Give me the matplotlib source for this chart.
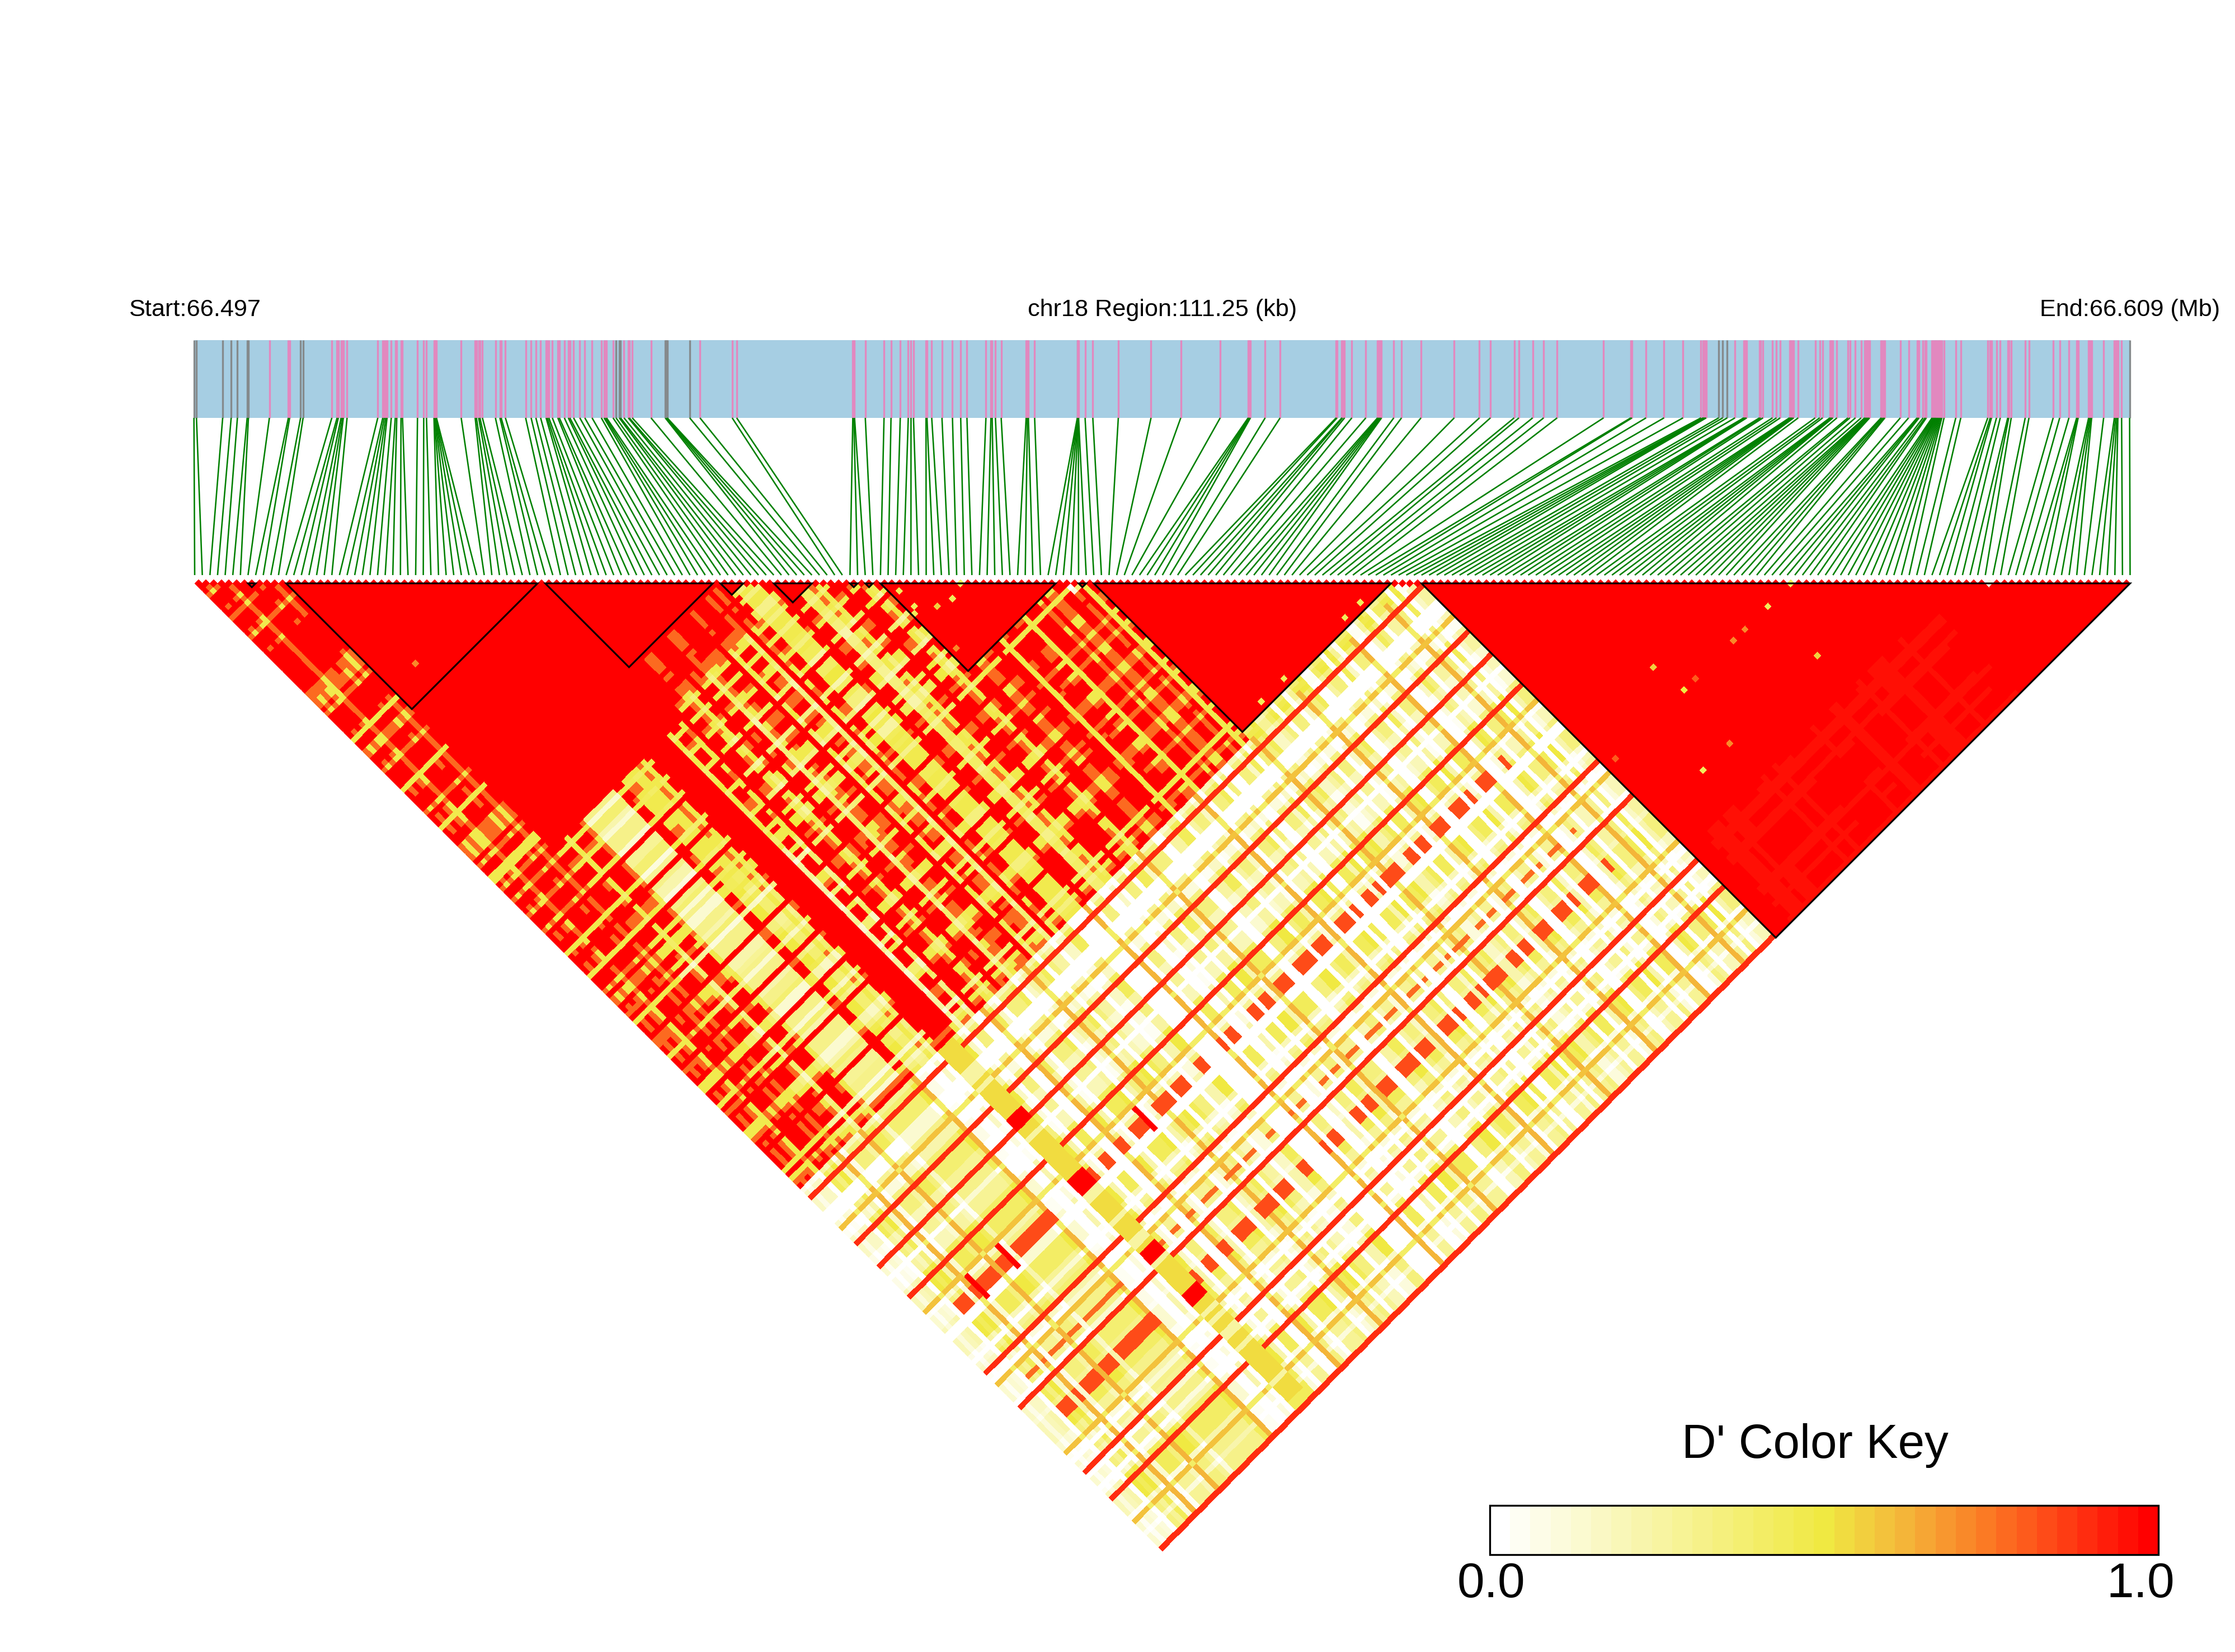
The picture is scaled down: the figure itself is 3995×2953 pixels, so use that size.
"""
LD heatmap of chr18 region, D' colour key
Values read off the picture by eye (regions, stripes, single cells)
"""
import numpy as np
import matplotlib
matplotlib.use('Agg')
import matplotlib.pyplot as plt
from matplotlib.colors import LinearSegmentedColormap
from matplotlib.patches import Polygon, Rectangle

plt.rcParams['font.family'] = ['Liberation Sans', 'DejaVu Sans']

# SNP positions in five crops (crop px, 2.24x)
strip_origin = [340, 1040, 1740, 2440, 3120]
strip_1 = [15, 25, 130, 164, 189, 228, 233, 317, 393, 398, 442, 452, 567, 588, 593, 604, 609, 613, 628, 751,
           771, 777, 783, 788, 805, 821, 827, 844, 850, 910, 935, 946, 976, 978, 980, 982, 984, 986, 1085, 1141,
           1146, 1155, 1160, 1170, 1222, 1240, 1245, 1262, 1343, 1365, 1384, 1403, 1425, 1430, 1436, 1450, 1472,
           1478, 1498, 1514, 1520, 1535, 1560]
strip_2 = [12, 41, 78, 89, 94, 99, 125, 137, 150, 155, 169, 186, 190, 202, 277, 334, 337, 340, 342, 432, 473,
           602, 620, 1085, 1089, 1092, 1135, 1210, 1238, 1275, 1307, 1318, 1328, 1378, 1382, 1401, 1442, 1484,
           1517, 1542]
strip_3 = [50, 70, 75, 88, 111, 211, 216, 220, 245, 416, 417, 418, 419, 420, 421, 447, 478, 580, 711, 830, 988,
           1100, 1103, 1106, 1109, 1168, 1228, 1452, 1456, 1475, 1478, 1486, 1515]
strip_4 = [3, 50, 54, 58, 62, 66, 115, 146, 224, 357, 458, 502, 597, 616, 671, 715, 769, 955, 1064, 1069, 1125,
           1197, 1273, 1345, 1354, 1358, 1362, 1366, 1416, 1432, 1450, 1481, 1516, 1520, 1524, 1528]
strip_5 = [56, 61, 70, 108, 124, 139, 176, 180, 184, 188, 193, 211, 279, 297, 309, 338, 342, 346, 350, 366, 410,
           418, 440, 463, 477, 481, 485, 489, 493, 497, 543, 547, 553, 558, 620, 653, 687, 691, 695, 711, 719,
           724, 747, 751, 755, 759, 762, 766, 770, 774, 778, 782, 786, 795, 842, 862, 970, 980, 985, 1005, 1020,
           1050, 1054, 1064, 1120, 1135, 1232, 1258, 1295, 1326, 1329, 1332, 1374, 1378, 1382, 1386, 1434, 1477,
           1482, 1487, 1491, 1506, 1538]
gray_snps = [0, 1, 2, 3, 4, 5, 6, 10, 11, 70, 71, 72, 78, 79, 80, 81, 82, 112, 164, 165, 166, 254]

# haplotype blocks (first SNP, last SNP)
blocks = [(7, 8), (12, 45), (46, 68), (69, 72), (76, 81), (86, 87), (88, 89), (90, 113), (116, 117),
          (118, 157), (161, 254)]

snp_weight = ("7575387957" "4777638875" "9999999998" "4433539999" "9527733885"
              "3777825677" "8376625588" "3333837722" "5377388537" "7733668826"
              "7755277837" "3377582777" "8556737735" "7783367738" "5377733587"
              "3667728356" "6888883337" "3558888866" "3773666999" "9995777933"
              "9999637855" "3377773888" "8799999773" "5376337725" "9999995377" "57773")

# regions of the triangle: i from, i to, j from, j to, level
regions = [(0, 255, 0, 255, .18),
           (0, 3, 160, 255, .08),
           (0, 12, 0, 90, .86), (0, 12, 90, 113, .86), (0, 12, 113, 160, .84),
           (12, 46, 46, 68, 1.), (12, 46, 68, 83, .97), (12, 44, 83, 113, .8), (12, 46, 113, 160, .7),
           (44, 46, 83, 113, .85),
           (46, 69, 69, 80, .93), (46, 69, 80, 90, .78), (46, 69, 90, 113, .74), (46, 69, 113, 160, .76),
           (69, 90, 69, 90, .78), (69, 90, 90, 113, .74), (69, 90, 113, 160, .78),
           (90, 114, 114, 160, .87), (114, 118, 118, 160, .85),
           (118, 158, 158, 161, .5)]

# pale yellow squares of SNP 20-27, i from, i to, j from, j to
pale_runs = [(20, 28, 83, 158), (20, 28, 160, 255)]

# faded part of the last block
fade_block = (165, 225, 232, 255)

# thick red / gold bands (i from, i to, j from, j to, D')
bands = [(37, 42, 83, 158, 1.),
         (36, 40, 160, 252, .54), (36, 40, 178, 181, 1.), (36, 40, 194, 198, 1.),
         (36, 40, 213, 216, 1.), (36, 40, 224, 227, 1.)]

# long lines
red_lines_j = [162, 174, 180, 188, 208, 217, 234, 241, 254]
orange_lines_i = [9, 15, 29, 47, 58, 74, 88, 103, 118, 130, 144, 153]
orange_lines_j = [170, 192, 211, 229, 247]
mix_red_i = [46, 52, 60, 66, 75, 84, 96]
mix_red_j = [93, 100, 105, 120, 128, 135, 141, 150]
ridges_j = [(195, 198, .84), (214, 215, .78), (222, 225, .82)]
short_red = [(10, 193, 199), (18, 193, 199), (54, 193, 199)]

# single cells that stand out inside the blocks (i, j, D')
single_cells = [(203, 210, .45), (203, 223, .55), (181, 210, .5), (180, 203, .55), (173, 223, .45),
                (194, 210, .7), (197, 210, .7), (184, 210, .8), (163, 210, .8), (180, 223, .7),
                (124, 156, .45), (150, 156, .45), (146, 156, .45), (130, 156, .45), (18, 40, .7),
                (91, 94, .45), (91, 98, .45), (90, 99, .45), (94, 101, .55), (97, 102, .45), (100, 101, .45),
                (91, 109, .7), (209, 210, .45), (235, 236, .1)]

key_values = np.linspace(0, 1, 33)
key_colors = [(0, '#ffffff'), (.5, '#f0e942'), (.62, '#f4b73a'), (.75, '#fb7a24'), (.9, '#ff2f10'), (1, '#ff0000')]

assert len(snp_weight) == 255

# picture layout, px
X0, X1, STEP = 348., 3807., 13.62
Y_TOP, BAR_TOP, BAR_BOT, LINE_BOT = 1036., 608., 747., 1028.
REGION_KB = 111.25

cmap = LinearSegmentedColormap.from_list('dprime', key_colors, N=33)

# bar positions in kb from the region start
bar_px = np.concatenate([o + np.array(s) / 2.24 for o, s in
                         zip(strip_origin, [strip_1, strip_2, strip_3, strip_4, strip_5])])
pos_kb = (bar_px - X0) / (X1 - X0) * REGION_KB
n = len(pos_kb)
assert n == 255

# build D'
T = np.zeros((n, n))
for i0, i1, j0, j1, lev in regions:
    T[i0:i1, j0:j1] = lev
w = np.array([int(c) for c in snp_weight]) / 9
D = np.clip(T + (np.outer(w, w) - .5) * 4 * T * (1 - T) * 1.6, 0, 1)

# left part is red or yellow with little orange in between, right part never gets past yellow
left = D[:, :160]
left[(left >= .5) & (left < .66)] = .46
left[(left >= .66) & (left < .8)] = .78
left[left >= .8] = 1
D[:161, 160:] = np.minimum(D[:161, 160:], .5)

for i0, i1, j0, j1 in pale_runs:
    D[i0:i1, j0:j1] = .42 * w[j0:j1]
for i in mix_red_i:
    D[i, i + 1:160] = 1
for j in mix_red_j:
    D[:100, j] = np.where(w[:100] >= .3, 1, D[:100, j])
for i in orange_lines_i:
    D[i, 160:] = np.where(w[160:] >= .5, .62, .42)
for j in orange_lines_j:
    D[:161, j] = np.where(w[:161] >= .5, .6, .4)
for j in red_lines_j:
    D[:161, j] = .88
for j0, j1, v in ridges_j:
    for i in range(4, 149):
        if w[i] >= .6:
            D[i, j0:j1] = v
for i0, i1, j0, j1, v in bands:
    D[i0:i1, j0:j1] = np.where(w[j0:j1] >= .5, v, v * .45) if v < 1 else v
for i, j0, j1 in short_red:
    D[i, j0:j1] = 1

# everything inside a block is red, apart from the odd cells below
for a, b in blocks:
    D[a:b + 1, a:b + 1] = 1
fi0, fi1, fj0, fj1 = fade_block
D[fi0:fi1, fj0:fj1] = .94 + .06 * np.outer(w[fi0:fi1], w[fj0:fj1])
for k in range(n - 1):
    D[k, k + 1] = 1
for i, j, v in single_cells:
    D[i, j] = v

mask = np.ones((n, n), dtype=bool)
mask[np.triu_indices(n, 1)] = False
D = np.ma.array(D, mask=mask)

fig = plt.figure(figsize=(3995 / 300, 2953 / 300), dpi=300)
ax = fig.add_axes([0, 0, 1, 1])
ax.set_xlim(0, 3995)
ax.set_ylim(2953, 0)
ax.axis('off')

# gene bar
ax.add_patch(Rectangle((X0, BAR_TOP), X1 - X0, BAR_BOT - BAR_TOP, facecolor='#a6cee3', edgecolor='none', zorder=1))
stripe_x = X0 + pos_kb / REGION_KB * (X1 - X0)
snp_x = X0 + np.arange(n) * STEP
for k in range(n):
    col = '#858a8c' if k in gray_snps else '#e288bf'
    ax.plot([stripe_x[k]] * 2, [BAR_TOP, BAR_BOT], color=col, lw=0.8, solid_capstyle='butt', zorder=2)
    ax.plot([stripe_x[k], snp_x[k]], [BAR_BOT, LINE_BOT], color='#008000', lw=0.62, solid_capstyle='butt', zorder=2)

# triangle, cell corners rotated 45 degrees
ii, jj = np.meshgrid(np.arange(n + 1) - .5, np.arange(n + 1) - .5, indexing='ij')
gx = X0 + (ii + jj) / 2 * STEP
gy = Y_TOP + (jj - ii) / 2 * STEP
ax.pcolormesh(gx, gy, D, cmap=cmap, vmin=0, vmax=1, zorder=3)

y_line = Y_TOP + STEP / 2
for a, b in blocks:
    tri = [(X0 + a * STEP, y_line), (X0 + b * STEP, y_line), (X0 + (a + b) / 2 * STEP, y_line + (b - a) / 2 * STEP)]
    ax.add_patch(Polygon(tri, closed=True, fill=False, edgecolor='black', lw=0.75, zorder=4))

# top labels
ax.text(X0, 554, 'Start:66.497', ha='center', va='center', fontsize=10.4)
ax.text((X0 + X1) / 2, 554, 'chr18 Region:111.25 (kb)', ha='center', va='center', fontsize=10.4)
ax.text(X1, 554, 'End:66.609 (Mb)', ha='center', va='center', fontsize=10.4)

# colour key
kx0, kx1, ky0, ky1 = 2663., 3858., 2691., 2779.
edges = np.linspace(kx0, kx1, len(key_values) + 1)
ax.pcolormesh(edges, [ky0, ky1], key_values[None, :], cmap=cmap, vmin=0, vmax=1, zorder=3)
ax.add_patch(Rectangle((kx0, ky0), kx1 - kx0, ky1 - ky0, fill=False, edgecolor='black', lw=0.8, zorder=4))
ax.text(3244, 2584, "D' Color Key", ha='center', va='center', fontsize=20.5)
ax.text(2665, 2833, '0.0', ha='center', va='center', fontsize=21)
ax.text(3826, 2833, '1.0', ha='center', va='center', fontsize=21)

fig.savefig('out.png', dpi=300, facecolor='white')
plt.close(fig)
